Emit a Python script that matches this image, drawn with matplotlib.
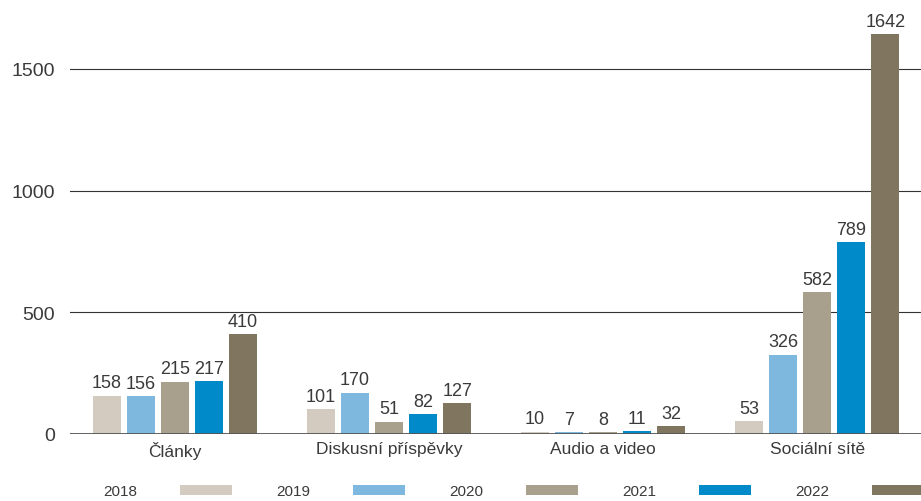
import matplotlib.pyplot as plt
import numpy as np

plt.rcParams['font.family'] = ['Liberation Sans', 'DejaVu Sans']

categories = ['Články', 'Diskusní příspěvky', 'Audio a video', 'Sociální sítě']
years = ['2018', '2019', '2020', '2021', '2022']
values = {
    '2018': [158, 101, 10, 53],
    '2019': [156, 170, 7, 326],
    '2020': [215, 51, 8, 582],
    '2021': [217, 82, 11, 789],
    '2022': [410, 127, 32, 1642],
}
colors = ['#d3cbbf', '#7fb8df', '#a89f8c', '#008ac9', '#807660']
text_col = '#3a3a3a'

# -----------------------------------------------------------------------------
fig = plt.figure(figsize=(9.21, 5.02), dpi=100)
ax = fig.add_axes([70 / 921, (502 - 435) / 502, 851 / 921, 435 / 502])

x = np.arange(len(categories))
step = 0.159
width = 0.132
for i, yr in enumerate(years):
    pos = x + (i - 2) * step
    bars = ax.bar(pos, values[yr], width, color=colors[i], label=yr, zorder=3)
    for b, v in zip(bars, values[yr]):
        ax.text(b.get_x() + b.get_width() / 2, v + 18, str(v),
                ha='center', va='bottom', fontsize=13, color=text_col)

for yv in [500, 1000, 1500]:
    ax.axhline(yv, color='#333333', lw=0.8, zorder=1)
ax.axhline(0, color='#555555', lw=1.3, zorder=4)

ax.set_xlim(-0.49, 3.485)
ax.set_ylim(0, 1787)
ax.set_yticks([0, 500, 1000, 1500])
ax.set_xticks(x)
ax.set_xticklabels(categories)
ax.tick_params(axis='both', length=0, labelsize=12.5, colors=text_col)
ax.tick_params(axis='y', pad=11, labelsize=14)
ax.tick_params(axis='x', pad=5)
for s in ax.spines.values():
    s.set_visible(False)

leg = fig.legend(loc='center left', bbox_to_anchor=(103 / 921, 10 / 502),
                 ncol=5, frameon=False, markerfirst=False,
                 handlelength=3.4, handleheight=0.65, handletextpad=2.8,
                 columnspacing=2.9, fontsize=11, borderaxespad=0, borderpad=0)
for t in leg.get_texts():
    t.set_color(text_col)

fig.savefig('out.png', dpi=100)
